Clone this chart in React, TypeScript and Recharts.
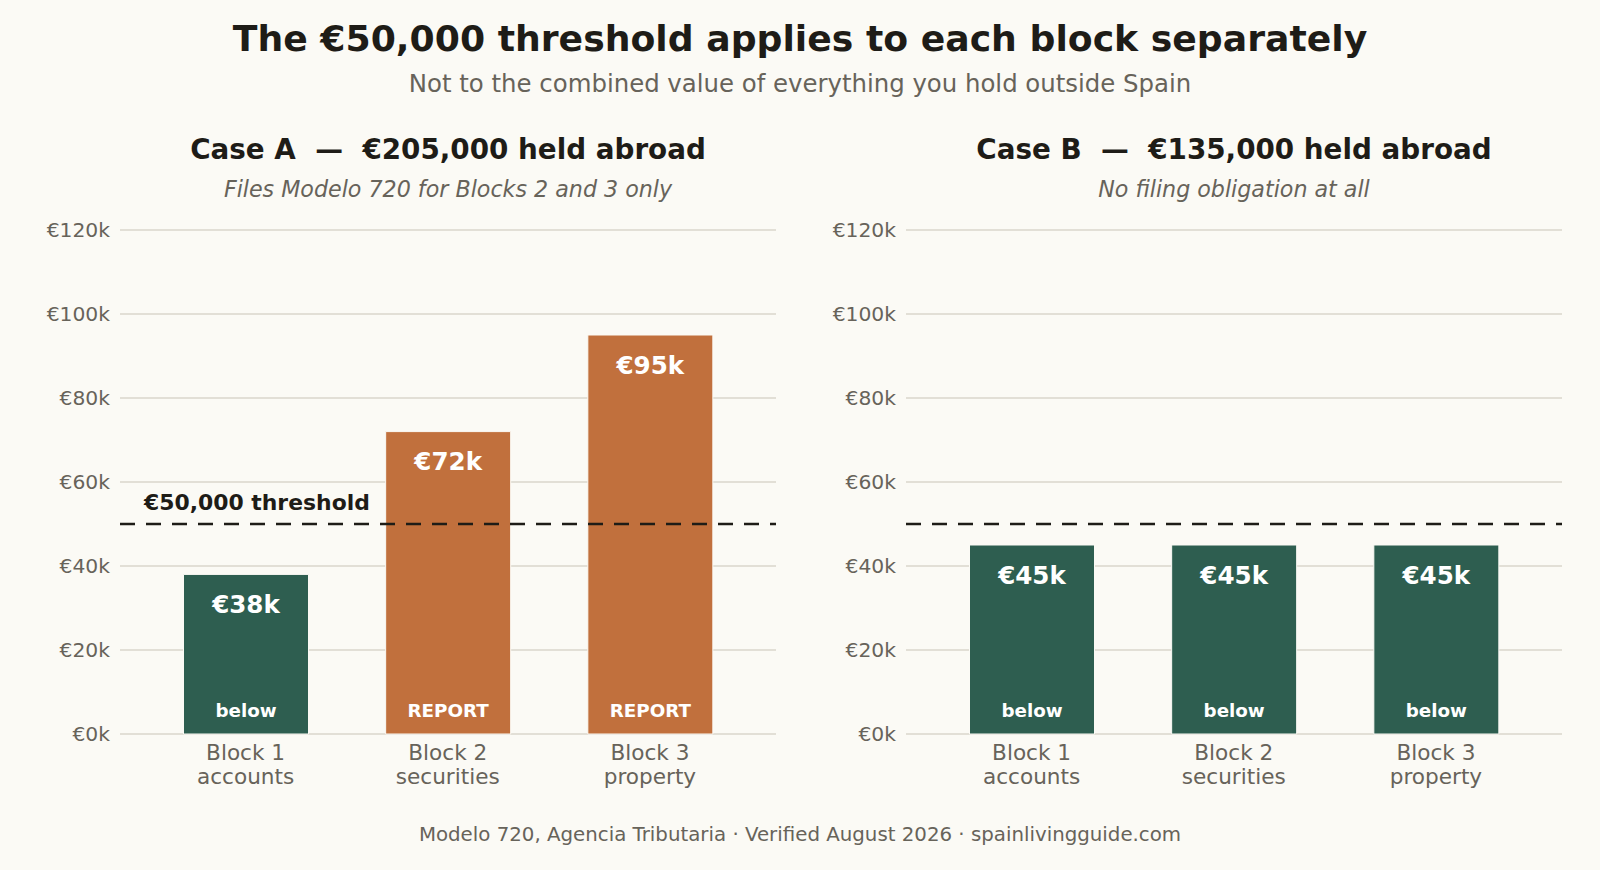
import React from 'react';
import { BarChart, Bar, XAxis, YAxis, CartesianGrid, ReferenceLine, Cell, LabelList } from 'recharts';

// ---- data ----
const blocks = ['Block 1', 'Block 2', 'Block 3'];
const blockTypes = ['accounts', 'securities', 'property'];
const caseAValues = [38000, 72000, 95000];
const caseBValues = [45000, 45000, 45000];
const caseAStatus = ['below', 'REPORT', 'REPORT'];
const caseBStatus = ['below', 'below', 'below'];
const yTicks = [0, 20000, 40000, 60000, 80000, 100000, 120000];
const threshold = 50000;
const thresholdLabel = '€50,000 threshold';

const mainTitle = 'The €50,000 threshold applies to each block separately';
const mainSubtitle = 'Not to the combined value of everything you hold outside Spain';
const caseATitle = 'Case A  —  €205,000 held abroad';
const caseASubtitle = 'Files Modelo 720 for Blocks 2 and 3 only';
const caseBTitle = 'Case B  —  €135,000 held abroad';
const caseBSubtitle = 'No filing obligation at all';
const footer = 'Modelo 720, Agencia Tributaria · Verified August 2026 · spainlivingguide.com';

// ---- styles ----
const FONT = '"DejaVu Sans", Verdana, sans-serif';
const BG = '#FBFAF5';
const DARK = '#1E1C17';
const GREY = '#67635A';
const GRID = '#DAD6CB';
const GREEN = '#2E5E50';
const ORANGE = '#C1703D';

const buildData = (values: number[], status: string[]) =>
  blocks.map((name, i) => ({ name, value: values[i], status: status[i] }));

const dataA = buildData(caseAValues, caseAStatus);
const dataB = buildData(caseBValues, caseBStatus);

const XTick = (props: any) => {
  const { x, y, payload } = props;
  const i = blocks.indexOf(payload.value);
  return (
    <text textAnchor="middle" fill={GREY} fontSize={21.6} fontFamily={FONT}>
      <tspan x={x} y={y + 26}>{payload.value}</tspan>
      <tspan x={x} y={y + 49.5}>{blockTypes[i]}</tspan>
    </text>
  );
};

const ValueLabel = (props: any) => {
  const { x, y, width, value } = props;
  return (
    <text x={x + width / 2} y={y + 38.5} textAnchor="middle" fill="#FFFFFF" fontWeight="bold" fontSize={24.6} fontFamily={FONT}>
      {`€${Math.round(value / 1000)}k`}
    </text>
  );
};

const StatusLabel = (props: any) => {
  const { x, y, width, height, value } = props;
  return (
    <text x={x + width / 2} y={y + height - 17.3} textAnchor="middle" fill="#FFFFFF" fontWeight="bold" fontSize={18.3} fontFamily={FONT}>
      {value}
    </text>
  );
};

const ThresholdLabel = (props: any) => {
  const { viewBox } = props;
  if (!viewBox) return null;
  return (
    <text x={viewBox.x + 24} y={viewBox.y - 14.5} textAnchor="start" fill={DARK} fontWeight="bold" fontSize={21.9} fontFamily={FONT}>
      {thresholdLabel}
    </text>
  );
};

const Panel = ({ data, margin, showThresholdLabel }: { data: any[]; margin: any; showThresholdLabel: boolean }) => (
  <BarChart width={800} height={870} data={data} margin={margin}>
    <CartesianGrid vertical={false} stroke={GRID} strokeWidth={1.6} />
    <XAxis
      dataKey="name"
      axisLine={false}
      tickLine={false}
      tickSize={0}
      tickMargin={0}
      height={60}
      interval={0}
      padding={{ left: 24.5, right: 25 }}
      tick={<XTick />}
    />
    <YAxis
      domain={[0, 120000]}
      ticks={yTicks}
      axisLine={false}
      tickLine={false}
      tickSize={0}
      tickMargin={10}
      width={60}
      tick={{ fill: GREY, fontSize: 20.3, fontFamily: FONT }}
      tickFormatter={(v: number) => `€${v / 1000}k`}
    />
    <Bar dataKey="value" barSize={125} isAnimationActive={false} stroke={BG} strokeWidth={1}>
      {data.map((d, i) => (
        <Cell key={i} fill={d.status === 'REPORT' ? ORANGE : GREEN} />
      ))}
      <LabelList dataKey="value" content={<ValueLabel />} />
      <LabelList dataKey="status" content={<StatusLabel />} />
    </Bar>
    <ReferenceLine
      y={threshold}
      stroke={DARK}
      strokeWidth={2.6}
      strokeDasharray="15 11"
      label={showThresholdLabel ? <ThresholdLabel /> : undefined}
    />
  </BarChart>
);

export default function App() {
  return (
    <div style={{ position: 'absolute', left: 0, top: 0, width: 1600, height: 870, background: BG, overflow: 'hidden' }}>
      <div style={{ position: 'absolute', left: 0, top: 0 }}>
        <Panel data={dataA} margin={{ top: 230, right: 24, bottom: 76, left: 60 }} showThresholdLabel={true} />
      </div>
      <div style={{ position: 'absolute', left: 800, top: 0 }}>
        <Panel data={dataB} margin={{ top: 230, right: 38, bottom: 76, left: 46 }} showThresholdLabel={false} />
      </div>
      <svg width={1600} height={870} style={{ position: 'absolute', left: 0, top: 0, pointerEvents: 'none' }}>
        <g fontFamily={FONT} style={{ whiteSpace: 'pre' }}>
          <text x={800} y={50.7} textAnchor="middle" fill={DARK} fontWeight="bold" fontSize={36.2}>{mainTitle}</text>
          <text x={800} y={92.3} textAnchor="middle" fill={GREY} fontSize={24.4}>{mainSubtitle}</text>
          <text x={448} y={159.3} textAnchor="middle" fill={DARK} fontWeight="bold" fontSize={27.8} style={{ whiteSpace: 'pre' }}>{caseATitle}</text>
          <text x={448} y={197.3} textAnchor="middle" fill={GREY} fontStyle="italic" fontSize={22.2}>{caseASubtitle}</text>
          <text x={1234} y={159.3} textAnchor="middle" fill={DARK} fontWeight="bold" fontSize={27.8} style={{ whiteSpace: 'pre' }}>{caseBTitle}</text>
          <text x={1234} y={197.3} textAnchor="middle" fill={GREY} fontStyle="italic" fontSize={22.2}>{caseBSubtitle}</text>
          <text x={800} y={841} textAnchor="middle" fill={GREY} fontSize={19.8}>{footer}</text>
        </g>
      </svg>
    </div>
  );
}
